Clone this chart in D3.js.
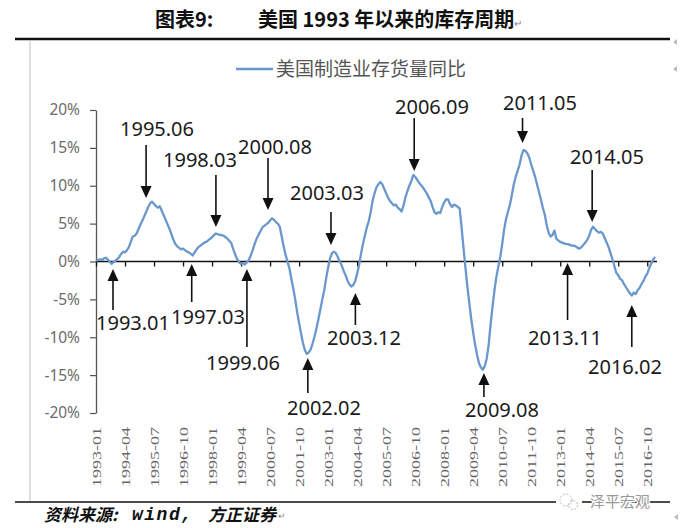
<!DOCTYPE html>
<html><head><meta charset="utf-8">
<script src="https://cdn.jsdelivr.net/npm/d3@7/dist/d3.min.js"></script>
<style>
html,body{margin:0;padding:0;background:#fff;}
svg{display:block;}
</style>
</head><body>
<svg id="chart" width="681" height="528"></svg>
<script>
// ---------- DATA ----------
const startYear = 1993;            // first month: 1993-01
const seriesName = "美国制造业存货量同比";
// monthly YoY (%) 1993-01 ... 2017-02
const inventoryYoY = [
  0.1, 0.2, 0.3, 0.2, 0.4, 0.5, 0.3, 0.0, -0.3, -0.1, 0.1, 0.3,          // 1993
  0.6, 1.0, 1.3, 1.2, 1.5, 1.9, 2.6, 3.3, 3.4, 3.7, 4.3, 4.9,            // 1994
  5.4, 6.0, 6.6, 7.2, 7.7, 7.9, 7.6, 7.3, 7.1, 7.3, 6.7, 6.1,            // 1995
  5.5, 4.9, 4.3, 3.6, 2.9, 2.3, 2.0, 1.8, 1.6, 1.7, 1.5, 1.3,            // 1996
  1.2, 1.0, 0.8, 1.2, 1.6, 1.9, 2.1, 2.3, 2.5, 2.6, 2.8, 3.0,            // 1997
  3.2, 3.5, 3.7, 3.6, 3.5, 3.5, 3.4, 3.2, 3.0, 2.7, 2.4, 1.6,            // 1998
  0.9, 0.3, -0.1, -0.3, -0.2, -0.4, -0.1, 0.2, 0.8, 1.5, 2.3, 3.0,       // 1999
  3.5, 4.0, 4.5, 4.7, 4.9, 5.1, 5.4, 5.7, 5.5, 5.2, 5.0, 4.6,            // 2000
  3.3, 2.0, 0.9, 0.0, -0.9, -2.3, -3.6, -5.0, -6.7, -8.1, -9.5, -10.8,   // 2001
  -11.7, -12.2, -12.0, -11.6, -10.8, -9.9, -8.8, -7.6, -6.3, -5.0, -3.8, -2.2, // 2002
  -0.8, 0.4, 1.1, 1.3, 1.1, 0.6, 0.0, -0.5, -1.2, -1.8, -2.5, -3.0,      // 2003
  -3.3, -3.1, -2.6, -1.6, -0.5, 1.0, 2.3, 3.4, 4.5, 5.3, 6.5, 8.0,       // 2004
  9.0, 9.8, 10.2, 10.5, 10.2, 9.6, 9.0, 8.4, 8.0, 7.7, 7.4, 7.5,         // 2005
  7.1, 6.9, 6.6, 7.4, 8.5, 9.3, 10.0, 10.6, 11.4, 11.2, 10.8, 10.4,      // 2006
  10.1, 9.8, 9.4, 9.0, 8.5, 8.0, 7.2, 6.5, 6.3, 6.5, 6.4, 7.2,           // 2007
  7.8, 8.2, 8.2, 7.6, 7.2, 7.5, 7.4, 7.2, 7.0, 4.5, 1.8, -0.8,           // 2008
  -3.3, -5.5, -7.6, -9.4, -11.0, -12.3, -13.4, -14.0, -14.3, -13.8, -12.8, -11.0, // 2009
  -8.3, -6.0, -3.8, -2.0, -0.7, 0.6, 2.3, 4.2, 5.6, 6.6, 7.5, 8.8,       // 2010
  10.2, 11.2, 12.0, 12.8, 14.0, 14.7, 14.6, 14.3, 13.7, 12.8, 12.0, 11.2, // 2011
  10.2, 9.2, 8.2, 7.1, 6.2, 4.8, 3.8, 3.3, 3.5, 4.1, 3.0, 2.8,           // 2012
  2.6, 2.5, 2.4, 2.3, 2.3, 2.2, 2.1, 2.1, 2.0, 1.8, 1.7, 1.9,            // 2013
  2.2, 2.5, 2.9, 3.4, 4.2, 4.6, 4.3, 4.0, 3.8, 3.9, 3.7, 3.1,            // 2014
  2.5, 1.9, 1.1, 0.3, -0.6, -1.5, -1.8, -2.3, -2.5, -3.0, -3.4, -3.8,    // 2015
  -4.2, -4.5, -4.1, -4.3, -3.8, -3.5, -3.0, -2.6, -2.0, -1.6, -0.9, -0.3, // 2016
  0.2, 0.6                                                               // 2017
];
const yTickValues = [20, 15, 10, 5, 0, -5, -10, -15, -20];
const xTickLabels = ["1993-01","1994-04","1995-07","1996-10","1998-01","1999-04","2000-07",
  "2001-10","2003-01","2004-04","2005-07","2006-10","2008-01","2009-04","2010-07","2011-10",
  "2013-01","2014-04","2015-07","2016-10"];
const peakLabels   = ["1995.06","1998.03","2000.08","2003.03","2006.09","2011.05","2014.05"];
const troughLabels = ["1993.01","1997.03","1999.06","2002.02","2003.12","2009.08","2013.11","2016.02"];

// ---------- LAYOUT (pixels) ----------
const annLayout = {
  "1995.06": {dx:-6, tail:145, tip:198, tx:157, ty:129},
  "1998.03": {dx:0,  tail:175, tip:227, tx:200, ty:160},
  "2000.08": {dx:-4, tail:158, tip:210, tx:275, ty:147},
  "2003.03": {dx:-1, tail:212, tip:245, tx:327, ty:193},
  "2006.09": {dx:1,  tail:118, tip:171, tx:432, ty:107},
  "2011.05": {dx:1,  tail:118, tip:143, tx:540, ty:103},
  "2014.05": {dx:1,  tail:170, tip:222, tx:607, ty:157},
  "1993.01": {dx:17, tail:310, tip:269, tx:133, ty:323},
  "1997.03": {dx:-1, tail:302, tip:264, tx:208, ty:317},
  "1999.06": {dx:2,  tail:347, tip:269, tx:243, ty:363},
  "2002.02": {dx:1,  tail:393, tip:358, tx:324, ty:408},
  "2003.12": {dx:6,  tail:325, tip:293, tx:364, ty:338},
  "2009.08": {dx:3,  tail:397, tip:373, tx:502, ty:410},
  "2013.11": {dx:-12,tail:320, tip:263, tx:565, ty:338},
  "2016.02": {dx:0,  tail:347, tip:305, tx:625, ty:367}
};

const svg = d3.select("#chart");
const CJK = "'Noto Sans CJK SC','Noto Sans',sans-serif";
const SANS = "'Noto Sans','Liberation Sans',sans-serif";
const MONO = "'Liberation Mono','DejaVu Sans Mono',monospace";

const x = d3.scaleLinear().domain([0, inventoryYoY.length - 1]).range([96, 655]);
const y = d3.scaleLinear().domain([-20, 20]).range([413, 110]);
const monthIndex = s => { const [yy, mm] = s.split(/[.-]/).map(Number); return (yy - startYear) * 12 + (mm - 1); };

// ---------- page decorations ----------
svg.append("text").attr("x", 155).attr("y", 27)
  .attr("font-family", CJK).attr("font-weight", 700).attr("font-size", 20).attr("fill", "#111")
  .text("图表9:");
const t2 = svg.append("text").attr("x", 258).attr("y", 27)
  .attr("font-family", CJK).attr("font-weight", 700).attr("font-size", 20).attr("fill", "#111");
t2.append("tspan").text("美国 1993 年以来的库存周期");
t2.append("tspan").attr("font-size", 10).attr("font-weight", 400).attr("fill", "#888").text("↵");

svg.append("line").attr("x1", 15).attr("x2", 670).attr("y1", 39).attr("y2", 39)
  .attr("stroke", "#111").attr("stroke-width", 2.5);
svg.append("line").attr("x1", 30).attr("x2", 30).attr("y1", 41).attr("y2", 501)
  .attr("stroke", "#d4d4d4").attr("stroke-width", 1.5);

// legend
svg.append("line").attr("x1", 236).attr("x2", 273).attr("y1", 69).attr("y2", 69)
  .attr("stroke", "#6a98cc").attr("stroke-width", 2.5);
svg.append("text").attr("x", 276).attr("y", 76)
  .attr("font-family", CJK).attr("font-size", 19).attr("fill", "#555").text(seriesName);

// ---------- axes ----------
const yAxis = svg.append("g").attr("transform", `translate(${x(0)},0)`)
  .call(d3.axisLeft(y).tickValues(yTickValues).tickSize(6).tickSizeOuter(0).tickFormat(d => d + "%"));
yAxis.select(".domain").attr("stroke", "#555").attr("stroke-width", 1.3);
yAxis.selectAll(".tick line").attr("stroke", "#555").attr("stroke-width", 1.2);
yAxis.selectAll(".tick text").attr("x", -16).attr("font-family", SANS).attr("font-size", 15.5)
  .attr("fill", "#6b6b6b");

const xTicks = xTickLabels.map(monthIndex);
const xAxis = svg.append("g").attr("transform", `translate(0,${y(0)})`)
  .call(d3.axisBottom(x).tickValues(xTicks).tickSize(5).tickSizeOuter(0).tickFormat(""));
xAxis.select(".domain").attr("d", `M${x(0)},0H${x(inventoryYoY.length - 1) + 2}`)
  .attr("stroke", "#111").attr("stroke-width", 1.6);
xAxis.selectAll(".tick line").attr("stroke", "#111").attr("stroke-width", 1.3);

// rotated category labels at the bottom
svg.append("g").selectAll("text").data(xTickLabels).join("text")
  .attr("transform", d => `translate(${x(monthIndex(d)) + 1},427) rotate(-90)`)
  .attr("text-anchor", "end").attr("dominant-baseline", "central")
  .attr("font-family", "'Liberation Serif','DejaVu Serif',serif").attr("font-size", 12.5)
  .attr("textLength", 60).attr("lengthAdjust", "spacingAndGlyphs")
  .attr("fill", "#666").text(d => d);

// ---------- series ----------
svg.append("path").datum(inventoryYoY)
  .attr("fill", "none").attr("stroke", "#6a98cc").attr("stroke-width", 2.3)
  .attr("stroke-linejoin", "round")
  .attr("d", d3.line().x((d, i) => x(i)).y(d => y(d)));

// ---------- annotations ----------
const annG = svg.append("g");
[...peakLabels.map(l => ({l, dir: "down"})), ...troughLabels.map(l => ({l, dir: "up"}))].forEach(a => {
  const L = annLayout[a.l];
  const ax = x(monthIndex(a.l)) + L.dx;
  const head = 12, hw = 5.5;
  const lineEnd = a.dir === "down" ? L.tip - head + 1 : L.tip + head - 1;
  annG.append("line").attr("x1", ax).attr("x2", ax).attr("y1", L.tail).attr("y2", lineEnd)
    .attr("stroke", "#111").attr("stroke-width", 1.6);
  const s = a.dir === "down" ? -1 : 1;
  annG.append("path")
    .attr("d", `M${ax},${L.tip}L${ax - hw},${L.tip + s * head}L${ax + hw},${L.tip + s * head}Z`)
    .attr("fill", "#111");
  annG.append("text").attr("x", L.tx).attr("y", L.ty + 7)
    .attr("text-anchor", "middle").attr("font-family", SANS).attr("font-size", 20)
    .attr("fill", "#1a1a1a").text(a.l);
});

// ---------- footer ----------
svg.append("line").attr("x1", 15).attr("x2", 670).attr("y1", 502).attr("y2", 502)
  .attr("stroke", "#111").attr("stroke-width", 1.5);
const srcG = svg.append("g").attr("font-style", "italic").attr("font-weight", 700).attr("fill", "#111");
srcG.append("text").attr("x", 44).attr("y", 521).attr("font-family", CJK).attr("font-size", 17).text("资料来源:");
srcG.append("text").attr("x", 132).attr("y", 520).attr("font-family", MONO).attr("font-size", 18)
  .attr("letter-spacing", 1.5).text("wind,");
srcG.append("text").attr("x", 208).attr("y", 521).attr("font-family", CJK).attr("font-size", 17).text("方正证券");
srcG.append("text").attr("x", 278).attr("y", 519).attr("font-family", CJK).attr("font-size", 9)
  .attr("font-weight", 400).attr("font-style", "normal").attr("fill", "#888").text("↵");

// watermark
const wm = svg.append("g");
wm.append("rect").attr("x", 556).attr("y", 494).attr("width", 26).attr("height", 16).attr("fill", "#fff");
wm.append("circle").attr("cx", 566).attr("cy", 500).attr("r", 6).attr("fill", "none")
  .attr("stroke", "#bbb").attr("stroke-width", 1).attr("stroke-dasharray", "2,1.5");
wm.append("circle").attr("cx", 573).attr("cy", 505).attr("r", 4.5).attr("fill", "none")
  .attr("stroke", "#bbb").attr("stroke-width", 1).attr("stroke-dasharray", "2,1.5");
wm.append("text").attr("x", 620).attr("y", 507).attr("text-anchor", "middle")
  .attr("font-family", CJK).attr("font-size", 15).attr("fill", "#999")
  .attr("stroke", "#fff").attr("stroke-width", 2.5).attr("paint-order", "stroke").text("泽平宏观");

// paragraph marks on the right edge
[[676, 42], [676, 69], [677, 517]].forEach(([mx, my]) => {
  svg.append("path").attr("d", `M${mx - 3},${my}L${mx + 1},${my - 3}L${mx + 1},${my + 3}Z`).attr("fill", "#bbb");
});
</script>
</body></html>
